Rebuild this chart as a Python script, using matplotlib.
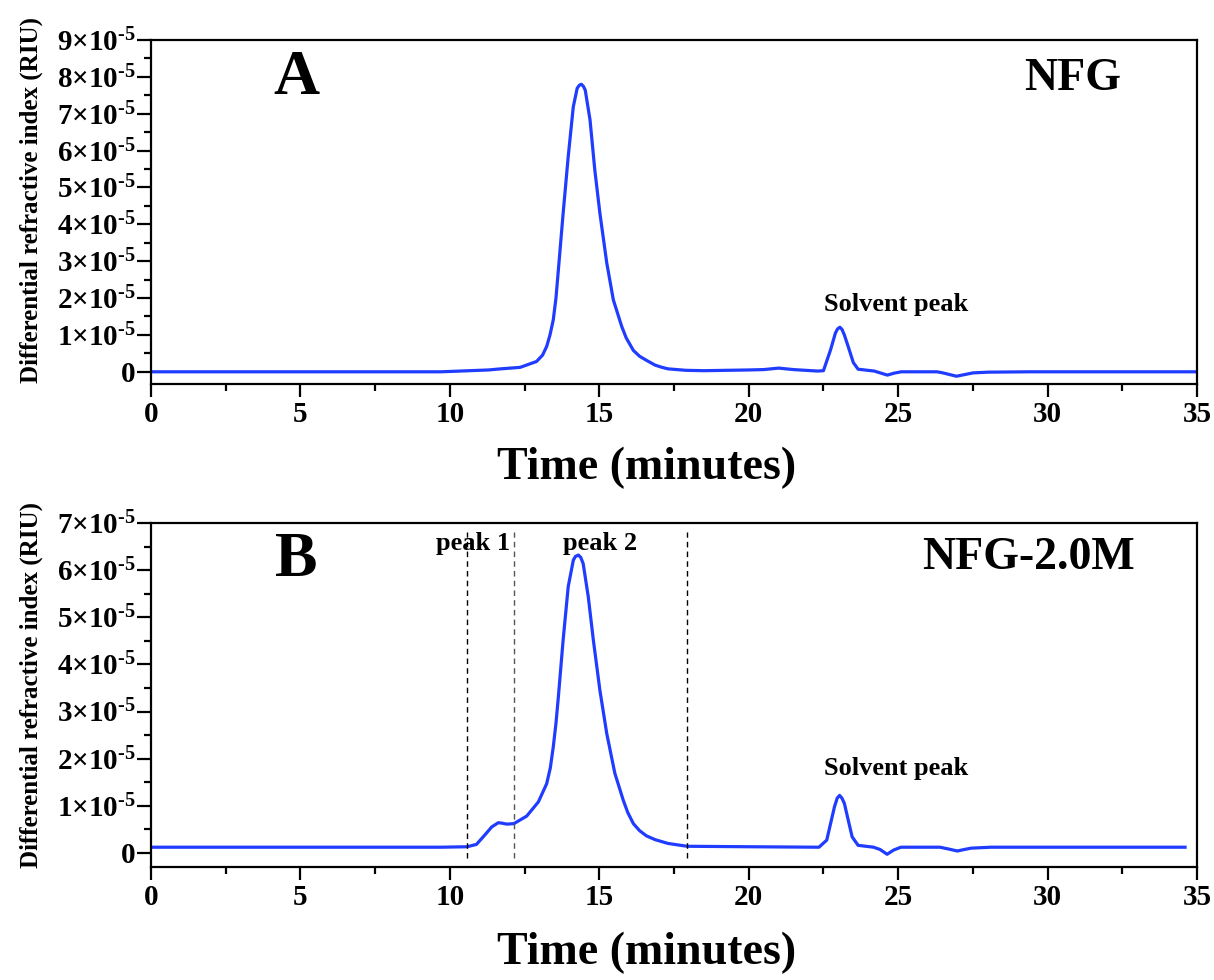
import matplotlib
matplotlib.use('Agg')
import matplotlib.pyplot as plt
import matplotlib.ticker as ticker

plt.rcParams['font.family'] = 'Liberation Serif'
plt.rcParams['font.weight'] = 'bold'
plt.rcParams['mathtext.fontset'] = 'custom'
plt.rcParams['mathtext.rm'] = 'Liberation Serif:bold'
plt.rcParams['mathtext.bf'] = 'Liberation Serif:bold'
plt.rcParams['mathtext.it'] = 'Liberation Serif:bold'

# chromatograms, signal in units of 1e-5 RIU
time_a = [0, 9.7, 11.3, 11.7, 12.35, 12.9, 13.1, 13.24, 13.35, 13.46, 13.55, 13.63, 13.79,
          13.96, 14.13, 14.26, 14.33, 14.40, 14.47, 14.53, 14.69, 14.85, 15.02, 15.25,
          15.47, 15.75, 15.9, 16.14, 16.35, 16.58, 16.87, 17.1, 17.3, 17.9, 18.5, 20.0,
          20.5, 21.0, 21.5, 22.3, 22.5, 22.74, 22.9, 22.97, 23.05, 23.12, 23.2, 23.33,
          23.5, 23.66, 24.2, 24.4, 24.64, 24.85, 25.1, 26.3, 26.5, 26.95, 27.2, 27.5,
          28.0, 29.4, 35.0]
signal_a = [0, 0, 0.05, 0.08, 0.12, 0.28, 0.45, 0.69, 1.0, 1.41, 2.0, 2.76, 4.30,
            5.84, 7.19, 7.69, 7.77, 7.80, 7.74, 7.64, 6.83, 5.47, 4.30, 2.95,
            1.95, 1.23, 0.92, 0.58, 0.42, 0.31, 0.18, 0.12, 0.08, 0.04, 0.03, 0.05,
            0.06, 0.10, 0.06, 0.02, 0.03, 0.60, 1.05, 1.16, 1.21, 1.15, 1.00, 0.68,
            0.25, 0.07, 0.02, -0.03, -0.09, -0.04, 0.0, 0.0, -0.03, -0.12, -0.08, -0.03,
            -0.01, 0.0, 0.0]

time_b = [0, 9.7, 10.58, 10.89, 11.17, 11.40, 11.62, 11.75, 11.90, 12.14, 12.57, 12.96,
          13.24, 13.36, 13.46, 13.55, 13.63, 13.79, 13.96, 14.13, 14.2, 14.30, 14.38,
          14.46, 14.63, 14.80, 15.02, 15.25, 15.52, 15.80, 15.95, 16.14, 16.35, 16.58,
          16.87, 17.3, 17.94, 20.0, 22.35, 22.61, 22.87, 22.96, 23.04, 23.12, 23.2,
          23.46, 23.66, 24.18, 24.4, 24.63, 24.85, 25.09, 26.4, 26.7, 26.98, 27.2,
          27.44, 28.1, 34.6]
signal_b = [0.12, 0.12, 0.13, 0.18, 0.38, 0.55, 0.64, 0.63, 0.61, 0.62, 0.78, 1.08,
            1.47, 1.8, 2.25, 2.75, 3.31, 4.52, 5.65, 6.21, 6.29, 6.32, 6.27,
            6.14, 5.44, 4.52, 3.45, 2.53, 1.69, 1.12, 0.86, 0.62, 0.47, 0.36,
            0.28, 0.20, 0.14, 0.13, 0.12, 0.27, 0.98, 1.16, 1.22, 1.16, 1.05,
            0.34, 0.16, 0.12, 0.07, -0.03, 0.06, 0.12, 0.12, 0.08, 0.04, 0.07,
            0.10, 0.12, 0.12]

cut_times = [10.58, 12.14, 17.94]
cut_colors = ['black', '#555555', 'black']

LINE = '#1f3cff'


def y_fmt(v, pos):
    if abs(v) < 1e-9:
        return '0'
    return r'$%d{\times}10^{\text{-5}}$' % round(v)


def style_axis(ax):
    ax.set_xlim(0, 35)
    ax.xaxis.set_major_locator(ticker.MultipleLocator(5))
    ax.xaxis.set_minor_locator(ticker.MultipleLocator(2.5))
    ax.yaxis.set_major_locator(ticker.MultipleLocator(1))
    ax.yaxis.set_minor_locator(ticker.MultipleLocator(0.5))
    ax.yaxis.set_major_formatter(ticker.FuncFormatter(y_fmt))
    ax.tick_params(axis='both', which='both', direction='out', width=1.6,
                   top=False, right=False)
    ax.tick_params(axis='y', which='major', length=10, labelsize=21, pad=1)
    ax.tick_params(axis='y', which='minor', length=5)
    ax.tick_params(axis='x', which='major', length=9, labelsize=21, pad=3)
    ax.tick_params(axis='x', which='minor', length=5)
    for sp in ax.spines.values():
        sp.set_linewidth(1.6)
    ax.set_ylabel('Differential refractive index (RIU)', fontsize=18, fontweight='bold')
    ax.set_xlabel('Time (minutes)', fontsize=33, fontweight='bold')
    ax.xaxis.label.set_va('center')
    ax.yaxis.label.set_va('center')


fig = plt.figure(figsize=(12.14, 9.8), dpi=100)
ax_a = fig.add_axes([0.1244, 0.6082, 0.8616, 0.351])
ax_b = fig.add_axes([0.1244, 0.1153, 0.8616, 0.351])

# panel A
ax_a.plot(time_a, signal_a, color=LINE, linewidth=2.3)
ax_a.set_ylim(-0.33, 9)
style_axis(ax_a)
ax_a.yaxis.set_label_coords(-0.114, 0.535)
ax_a.xaxis.set_label_coords(0.474, -0.245)
ax_a.text(4.85, 7.95, 'A', fontsize=46, fontweight='bold', ha='center', va='center')
ax_a.text(30.85, 7.95, 'NFG', fontsize=33, fontweight='bold', ha='center', va='center')
ax_a.text(24.94, 1.82, 'Solvent peak', fontsize=19, fontweight='bold', ha='center', va='center')

# panel B
ax_b.plot(time_b, signal_b, color=LINE, linewidth=2.3)
ax_b.vlines(cut_times, -0.1, 6.8, colors=cut_colors, linestyles=(0, (4, 3)), linewidth=1.0)
ax_b.set_ylim(-0.3, 7)
style_axis(ax_b)
ax_b.yaxis.set_label_coords(-0.114, 0.53)
ax_b.xaxis.set_label_coords(0.474, -0.25)
ax_b.text(4.85, 6.2, 'B', fontsize=46, fontweight='bold', ha='center', va='center')
ax_b.text(29.35, 6.25, 'NFG-2.0M', fontsize=33, fontweight='bold', ha='center', va='center')
ax_b.text(10.77, 6.57, 'peak 1', fontsize=19, fontweight='bold', ha='center', va='center')
ax_b.text(15.02, 6.57, 'peak 2', fontsize=19, fontweight='bold', ha='center', va='center')
ax_b.text(24.94, 1.78, 'Solvent peak', fontsize=19, fontweight='bold', ha='center', va='center')

fig.savefig('out.png', dpi=100)
